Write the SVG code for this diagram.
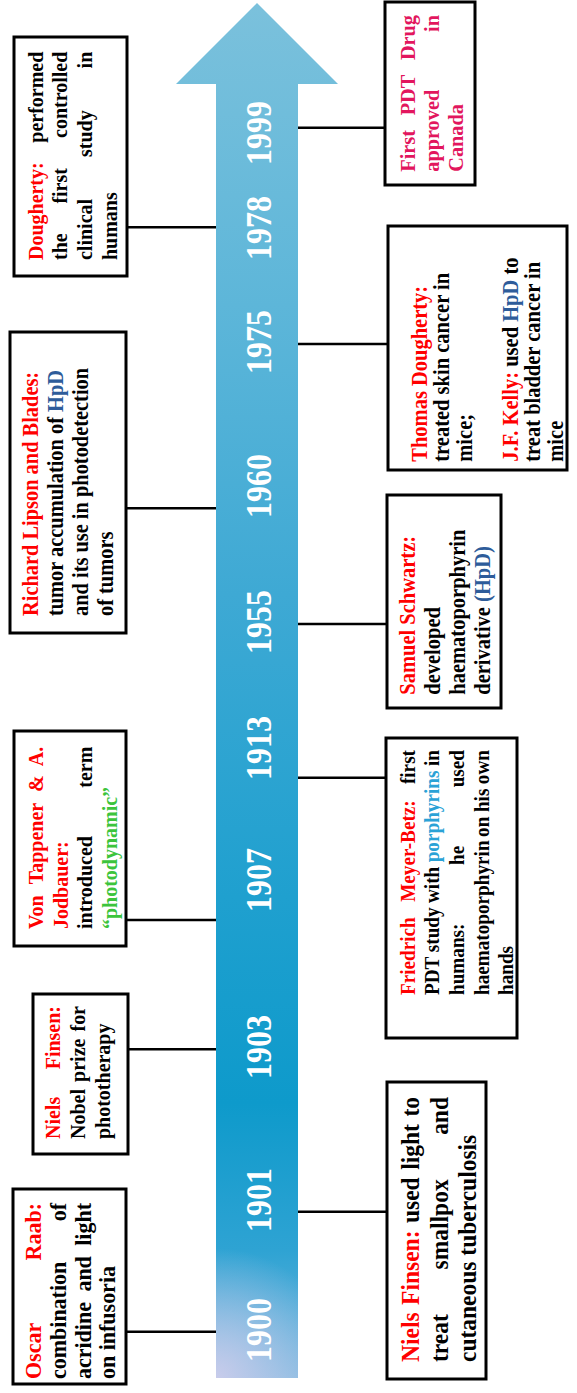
<svg xmlns="http://www.w3.org/2000/svg" width="577" height="1393" viewBox="0 0 577 1393">
<defs>
<linearGradient id="ag" gradientUnits="userSpaceOnUse" x1="0" y1="1378" x2="0" y2="3">
<stop offset="0" stop-color="#7ab8df"/>
<stop offset="0.093" stop-color="#2ea3d3"/>
<stop offset="0.2" stop-color="#0e9acb"/>
<stop offset="0.35" stop-color="#1fa0cf"/>
<stop offset="0.57" stop-color="#3ea9d4"/>
<stop offset="0.78" stop-color="#5db6d9"/>
<stop offset="1" stop-color="#7bc1dc"/>
</linearGradient>
<radialGradient id="lav" gradientUnits="userSpaceOnUse" cx="216" cy="1378" r="130">
<stop offset="0" stop-color="#c8cceb" stop-opacity="1"/>
<stop offset="1" stop-color="#c8cceb" stop-opacity="0"/>
</radialGradient>
</defs>
<style>
text{font-family:"Liberation Serif","Times New Roman",serif;font-weight:bold;fill:#000}
.r{fill:#ff0000}
.b{fill:#2e5c9a}
.lb{fill:#2aa2d6}
.g{fill:#3cc43c}
.p{fill:#e2165e}
.box{fill:#fff;stroke:#000;stroke-width:3}
.c{stroke:#000;stroke-width:2.5;fill:none}
.yr{font-size:32px;fill:#fff;text-anchor:middle}
.e{text-anchor:end}
</style>
<rect width="577" height="1393" fill="#fff"/>
<g id="timeline-arrow">
<polygon points="216,1378 216,84 176,84 257,3 338,84 298,84 298,1378" fill="url(#ag)"/>
<polygon points="216,1378 216,84 176,84 257,3 338,84 298,84 298,1378" fill="url(#lav)"/>
<text class="yr" transform="translate(271,1330) rotate(-90) scale(1,1.15)">1900</text>
<text class="yr" transform="translate(271,1200) rotate(-90) scale(1,1.15)">1901</text>
<text class="yr" transform="translate(271,1047) rotate(-90) scale(1,1.15)">1903</text>
<text class="yr" transform="translate(271,880) rotate(-90) scale(1,1.15)">1907</text>
<text class="yr" transform="translate(271,748) rotate(-90) scale(1,1.15)">1913</text>
<text class="yr" transform="translate(271,622) rotate(-90) scale(1,1.15)">1955</text>
<text class="yr" transform="translate(271,486) rotate(-90) scale(1,1.15)">1960</text>
<text class="yr" transform="translate(271,342) rotate(-90) scale(1,1.15)">1975</text>
<text class="yr" transform="translate(271,228) rotate(-90) scale(1,1.15)">1978</text>
<text class="yr" transform="translate(271,133) rotate(-90) scale(1,1.15)">1999</text>
</g>
<g id="connectors">
<line class="c" x1="126" y1="1331.7" x2="216" y2="1331.7"/>
<line class="c" x1="298" y1="1211.7" x2="387" y2="1211.7"/>
<line class="c" x1="127" y1="1049.3" x2="216" y2="1049.3"/>
<line class="c" x1="126" y1="920" x2="216" y2="920"/>
<line class="c" x1="298" y1="777.7" x2="386" y2="777.7"/>
<line class="c" x1="298" y1="624" x2="387" y2="624"/>
<line class="c" x1="126" y1="508.3" x2="216" y2="508.3"/>
<line class="c" x1="298" y1="344" x2="388" y2="344"/>
<line class="c" x1="127" y1="227.3" x2="216" y2="227.3"/>
<line class="c" x1="298" y1="127.7" x2="385" y2="127.7"/>
</g>
<g id="n1900" transform="translate(13,1384) rotate(-90)" font-size="22">
<rect class="box" x="0" y="0" width="195" height="113"/>
<g transform="scale(1,1.08)">
<text class="r" x="5" y="25.93">Oscar</text>
<text class="r e" x="181" y="25.93">Raab:</text>
<text x="5" y="49.07">combination</text>
<text class="e" x="181" y="49.07">of</text>
<text x="5" y="72.22">acridine</text>
<text x="92.4" y="72.22">and</text>
<text class="e" x="181" y="72.22">light</text>
<text x="5" y="94.44">on infusoria</text>
</g>
</g>
<g id="n1901" transform="translate(387,1379) rotate(-90)" font-size="23.5">
<rect class="box" x="0" y="0" width="297" height="99"/>
<g transform="scale(1,1.08)">
<text class="r" x="17" y="29.91">Niels</text>
<text class="r" x="74.1" y="29.91">Finsen:</text>
<text x="156" y="29.91">used</text>
<text x="209.2" y="29.91">light</text>
<text class="e" x="282" y="29.91">to</text>
<text x="17" y="56.48">treat</text>
<text x="109.6" y="56.48">smallpox</text>
<text class="e" x="282" y="56.48">and</text>
<text x="17" y="82.41">cutaneous tuberculosis</text>
</g>
</g>
<g id="n1903" transform="translate(33,1154) rotate(-90)" font-size="20">
<rect class="box" x="0" y="0" width="160" height="95"/>
<g transform="scale(1,1.08)">
<text class="r" x="15" y="25">Niels</text>
<text class="r e" x="148" y="25">Finsen:</text>
<text x="15" y="48.15">Nobel</text>
<text x="72.1" y="48.15">prize</text>
<text class="e" x="148" y="48.15">for</text>
<text x="15" y="71.3">phototherapy</text>
</g>
</g>
<g id="n1907" transform="translate(14,946) rotate(-90)" font-size="20">
<rect class="box" x="0" y="0" width="215" height="112"/>
<g transform="scale(1,1.08)">
<text class="r" x="17" y="27.13">Von</text>
<text class="r" x="61.7" y="27.13">Tappener</text>
<text class="r" x="154.1" y="27.13">&amp;</text>
<text class="r e" x="199.3" y="27.13">A.</text>
<text class="r" x="17" y="50.28">Jodbauer:</text>
<text x="17" y="71.94">introduced</text>
<text class="e" x="199.3" y="71.94">term</text>
<text class="g" x="17" y="95.09">“photodynamic”</text>
</g>
</g>
<g id="n1913" transform="translate(386,1038) rotate(-90)" font-size="19.2">
<rect class="box" x="0" y="0" width="300" height="131"/>
<g transform="scale(1,1.08)">
<text class="r" x="43" y="26.85">Friedrich</text>
<text class="r" x="136.2" y="26.85">Meyer-Betz:</text>
<text class="e" x="288" y="26.85">first</text>
<text x="43" y="49.35">PDT</text>
<text x="85.8" y="49.35">study</text>
<text x="135" y="49.35">with</text>
<text class="lb" x="175.7" y="49.35">porphyrins</text>
<text class="e" x="288" y="49.35">in</text>
<text x="43" y="72.22">humans:</text>
<text x="173" y="72.22">he</text>
<text class="e" x="288" y="72.22">used</text>
<text x="43" y="95.37">haematoporphyrin</text>
<text x="201.1" y="95.37">on</text>
<text x="225.9" y="95.37">his</text>
<text class="e" x="288" y="95.37">own</text>
<text x="43" y="117.87">hands</text>
</g>
</g>
<g id="n1955" transform="translate(387,708) rotate(-90)" font-size="20.5">
<rect class="box" x="0" y="0" width="213" height="114"/>
<g transform="scale(1,1.08)">
<text class="r" x="13.3" y="25.93">Samuel Schwartz:</text>
<text x="13.3" y="49.07">developed</text>
<text x="13.3" y="72.22">haematoporphyrin</text>
<text x="13.3" y="95.37">derivative <tspan class="b">(HpD)</tspan></text>
</g>
</g>
<g id="n1960" transform="translate(10,633) rotate(-90)" font-size="20.4">
<rect class="box" x="0" y="0" width="301" height="116"/>
<g transform="scale(1,1.08)">
<text class="r" x="17" y="25.65">Richard Lipson and Blades:</text>
<text x="17" y="49.35">tumor accumulation of <tspan class="b">HpD</tspan></text>
<text x="17" y="72.5">and its use in photodetection</text>
<text x="17" y="95.65">of tumors</text>
</g>
</g>
<g id="n1975" transform="translate(388,470) rotate(-90)" font-size="20.5">
<rect class="box" x="0" y="0" width="244" height="179"/>
<g transform="scale(1,1.08)">
<text class="r" x="8.3" y="35.83">Thomas Dougherty:</text>
<text x="8.3" y="56.85">treated skin cancer in</text>
<text x="8.3" y="77.87">mice;</text>
<text x="8.3" y="119.91"><tspan class="r">J.F. Kelly:</tspan> used <tspan class="b">HpD</tspan> to</text>
<text x="8.3" y="140.93">treat bladder cancer in</text>
<text x="8.3" y="161.94">mice</text>
</g>
</g>
<g id="n1978" transform="translate(14,276) rotate(-90)" font-size="20">
<rect class="box" x="0" y="0" width="239" height="113"/>
<g transform="scale(1,1.08)">
<text class="r" x="16" y="26.57">Dougherty:</text>
<text class="e" x="224.3" y="26.57">performed</text>
<text x="16" y="48.8">the</text>
<text x="72.4" y="48.8">first</text>
<text class="e" x="224.3" y="48.8">controlled</text>
<text x="16" y="71.94">clinical</text>
<text x="119" y="71.94">study</text>
<text class="e" x="224.3" y="71.94">in</text>
<text x="16" y="95.09">humans</text>
</g>
</g>
<g id="n1999" transform="translate(385,185) rotate(-90)" font-size="20.3">
<rect class="box" x="0" y="0" width="183" height="90"/>
<g transform="scale(1,1.08)">
<text class="p" x="13.3" y="27.78">First</text>
<text class="p" x="69.65" y="27.78">PDT</text>
<text class="p e" x="170" y="27.78">Drug</text>
<text class="p" x="13.3" y="50">approved</text>
<text class="p e" x="170" y="50">in</text>
<text class="p" x="13.3" y="72.22">Canada</text>
</g>
</g>
</svg>
